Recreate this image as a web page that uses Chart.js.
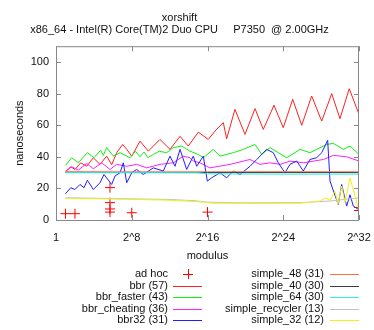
<!DOCTYPE html>
<html>
<head>
<meta charset="utf-8">
<script src="https://cdn.jsdelivr.net/npm/chart.js@4/dist/chart.umd.min.js"></script>
<style>
  body { margin: 0; background: #fff; }
  #wrap { width: 374px; height: 330px; }
</style>
</head>
<body>
<div id="wrap"><canvas id="myChart"></canvas></div>
<script>
// x values are log2(modulus)
const xTickValues = [0, 8, 16, 24, 32];
const xTickLabels = ['1', '2^8', '2^16', '2^24', '2^32'];
const yTickValues = [0, 20, 40, 60, 80, 100];

const adHocX = [1, 2, 5.7, 5.7, 5.7, 5.7, 8, 16, 32, 32];
const adHocY = [4, 4, 20.5, 11, 7, 5, 4.6, 5, 8, 6];

const bbrX = [1, 1.55, 2, 2.61, 3.24, 3.94, 4.65, 5.35, 5.88, 6.41, 7.04, 7.47, 8, 8.87, 9.75, 10.98, 12.04, 13.1, 13.97, 15.03, 16.08, 16.9, 17.67, 18.02, 18.9, 19.96, 21.02, 21.89, 23.02, 24, 25, 25.95, 27, 28.06, 29.12, 29.99, 30.97, 32];
const bbrY = [30.3, 33.7, 32, 36.2, 34, 39.4, 35.2, 40.4, 35, 42.6, 47.8, 44.7, 40.4, 49.9, 43.6, 51, 44.7, 53, 46.8, 55.6, 51, 57, 61.6, 51.4, 70, 54.2, 70.5, 57.3, 72.6, 58.4, 76.4, 59.9, 78.5, 62.6, 80, 64.1, 83.1, 66.9];

const fasterX = [1, 1.66, 2.36, 3.31, 4.01, 4.72, 5, 5.35, 6.05, 6.76, 7.81, 8.4, 8.87, 9.3, 9.7, 10.28, 10.9, 11.69, 12.39, 13.27, 14.15, 15.03, 15.56, 16.61, 17.32, 18.72, 19.78, 21.02, 21.72, 22.6, 23.48, 24.36, 25.77, 26.82, 27.53, 28.59, 29.29, 30.34, 31.05, 32];
const fasterY = [34.5, 39.4, 36.2, 42.6, 39.4, 44.2, 40.9, 45.8, 40.4, 42.6, 39.4, 43.5, 40, 43, 39.5, 41.5, 43.5, 42.6, 45.8, 46.8, 43.6, 41.5, 39.4, 44.7, 40.4, 42.6, 44.7, 47.8, 41.5, 45.8, 42.6, 39.4, 44.7, 42.6, 44.7, 47.8, 48.5, 44.7, 46.8, 41.5];

const cheatingX = [1, 1.66, 2.36, 3.24, 3.94, 4.83, 5.7, 6.41, 7.47, 8.52, 9.58, 10.98, 12.39, 13.44, 14.15, 14.5, 15.21, 16.26, 18.38, 20.49, 21.54, 22.6, 23.66, 24.71, 26.12, 28.23, 29.29, 30.7, 32];
const cheatingY = [31, 33.7, 31.6, 35.8, 32.4, 36.2, 32, 35.2, 34, 35.2, 33, 35.2, 36.2, 40.4, 39.4, 37.3, 36.2, 33, 35.2, 38.3, 35.2, 36.2, 35.2, 37.3, 36.2, 38.3, 40.9, 40, 37.3];

const bbr32X = [1, 1.55, 2, 2.53, 2.96, 3.31, 3.94, 4.65, 5.07, 5.88, 6.23, 6.76, 7.11, 7.47, 8, 8.52, 9.22, 10.28, 11.33, 12.04, 12.57, 13.1, 13.8, 14.5, 14.86, 15.56, 15.98, 16.44, 17.32, 18.02, 18.72, 19.43, 20.49, 21.2, 22.25, 22.95, 23.48, 24.18, 24.71, 25.42, 26.12, 26.82, 27.53, 28.06, 28.69, 28.94, 29.81, 30.17, 30.7, 31.05, 31.4, 31.93];
const bbr32Y = [16.6, 20.4, 19.3, 22.5, 20.4, 25.2, 19.3, 23.6, 28.8, 22.5, 27.8, 29.9, 36.2, 23.6, 29.9, 32, 28.8, 33, 31, 40.4, 34, 44.7, 32, 40.4, 34, 40.4, 24.6, 26.7, 29.9, 26.7, 31, 28.8, 34, 38.3, 44.7, 42.6, 36.2, 29.9, 35.2, 37.3, 31, 38.3, 39.4, 42.6, 50.4, 24.6, 9.8, 22.5, 8.8, 16, 8.8, 6.7];

const simple48X = [1, 8, 16, 24, 32];
const simple48Y = [30.6, 30.5, 30.5, 30.6, 30.5];

const simple40X = [1, 8, 16, 24, 32];
const simple40Y = [30, 30, 30, 30, 30];

const simple64X = [1, 8, 15, 16, 24, 32];
const simple64Y = [30, 30, 29.9, 29.2, 29, 29];

const recyclerX = [1, 6.76, 12.04, 14.68, 15.95, 19.43, 25.77, 28.94, 30.5, 32];
const recyclerY = [14.1, 13.5, 13, 12.2, 11.3, 10.9, 11, 12, 13, 14];

const simple32X = [1, 6.76, 12.04, 15.21, 16.58, 19.43, 25.77, 27.88, 28.51, 28.94, 29.46, 29.78, 30.17, 30.52, 31.05, 31.93];
const simple32Y = [13.7, 13.2, 12.5, 11.5, 10.6, 10.6, 10.6, 12, 14, 12.5, 18.3, 10, 21.5, 11, 26.7, 7.7];

const pairs = (xs, ys) => xs.map((x, i) => ({ x: x, y: ys[i] }));

const series = [
    { label: 'ad hoc', x: adHocX, y: adHocY, color: '#ff0000', points: true },
    { label: 'bbr (57)', x: bbrX, y: bbrY, color: '#ff2020' },
    { label: 'bbr_faster (43)', x: fasterX, y: fasterY, color: '#10f010' },
    { label: 'bbr_cheating (36)', x: cheatingX, y: cheatingY, color: '#ff20ff' },
    { label: 'bbr32 (31)', x: bbr32X, y: bbr32Y, color: '#2020ff' },
    { label: 'simple_48 (31)', x: simple48X, y: simple48Y, color: '#ff7040' },
    { label: 'simple_40 (30)', x: simple40X, y: simple40Y, color: '#3a3a3a' },
    { label: 'simple_64 (30)', x: simple64X, y: simple64Y, color: '#30f0f0' },
    { label: 'simple_recycler (13)', x: recyclerX, y: recyclerY, color: '#c0c0c0' },
    { label: 'simple_32 (12)', x: simple32X, y: simple32Y, color: '#f0f020' },
];

const datasets = series.map((s, i) => ({
    label: s.label,
    data: pairs(s.x, s.y),
    borderColor: s.color,
    backgroundColor: s.color,
    borderWidth: 1,
    showLine: !s.points,
    pointStyle: 'cross',
    pointRadius: s.points ? 5 : 0,
    pointBorderWidth: 1,
    tension: 0,
    order: -i,
}));

// gnuplot-like frame with inward ticks on all four sides
const framePlugin = {
    id: 'frame',
    afterDatasetsDraw(chart) {
        const { ctx, chartArea: a, scales } = chart;
        ctx.save();
        ctx.strokeStyle = '#888';
        ctx.lineWidth = 1;
        ctx.strokeRect(a.left + 0.5, a.top + 0.5, a.right - a.left - 1, a.bottom - a.top);
        ctx.beginPath();
        xTickValues.forEach(v => {
            const px = Math.round(scales.x.getPixelForValue(v)) + 0.5;
            ctx.moveTo(px, a.bottom); ctx.lineTo(px, a.bottom - 5);
            ctx.moveTo(px, a.top); ctx.lineTo(px, a.top + 5);
        });
        yTickValues.forEach(v => {
            const py = Math.round(scales.y.getPixelForValue(v)) + 0.5;
            ctx.moveTo(a.left, py); ctx.lineTo(a.left + 5, py);
            ctx.moveTo(a.right, py); ctx.lineTo(a.right - 5, py);
        });
        ctx.stroke();
        ctx.restore();
    },
};

// two-column legend, text right-aligned with sample on its right
const legendPlugin = {
    id: 'sideLegend',
    afterDraw(chart) {
        const ctx = chart.ctx;
        const rows = [274, 286, 297, 309, 320];
        const cols = [{ textX: 168, lineX: 173 }, { textX: 324, lineX: 330 }];
        ctx.save();
        ctx.font = '11px "Liberation Sans", Arial, sans-serif';
        ctx.textAlign = 'right';
        ctx.textBaseline = 'middle';
        ctx.lineWidth = 1;
        series.forEach((s, i) => {
            const col = cols[Math.floor(i / 5)];
            const y = rows[i % 5];
            ctx.fillStyle = '#111';
            ctx.fillText(s.label, col.textX, y);
            ctx.strokeStyle = s.color;
            ctx.beginPath();
            if (s.points) {
                const cx = col.lineX + 15;
                ctx.moveTo(cx - 5, y + 0.5); ctx.lineTo(cx + 5, y + 0.5);
                ctx.moveTo(cx + 0.5, y - 5); ctx.lineTo(cx + 0.5, y + 5);
            } else {
                ctx.moveTo(col.lineX, y + 0.5);
                ctx.lineTo(col.lineX + 29, y + 0.5);
            }
            ctx.stroke();
        });
        ctx.restore();
    },
};

Chart.defaults.font.family = '"Liberation Sans", Arial, sans-serif';
Chart.defaults.font.size = 11;
Chart.defaults.color = '#111';

const ctx = document.getElementById('myChart').getContext('2d');

const myChart = new Chart(ctx, {
    type: 'scatter',
    data: { datasets: datasets },
    options: {
        animation: false,
        responsive: true,
        maintainAspectRatio: false,
        layout: { padding: { top: 0, left: 0, right: 15, bottom: 67 } },
        plugins: {
            legend: { display: false },
            tooltip: { enabled: false },
            title: {
                display: true,
                text: ['xorshift', 'x86_64 - Intel(R) Core(TM)2 Duo CPU     P7350  @ 2.00GHz'],
                font: { size: 11, weight: 'normal', lineHeight: 1.1 },
                color: '#111',
                padding: { top: 12, bottom: 10 },
            },
        },
        scales: {
            x: {
                type: 'linear',
                min: 0,
                max: 32,
                grid: { display: false, drawTicks: false },
                border: { display: false },
                afterBuildTicks: scale => { scale.ticks = xTickValues.map(v => ({ value: v })); },
                afterFit: scale => {
                    scale.height = 43;
                    scale.paddingLeft = 0;
                    scale.paddingRight = 0;
                },
                ticks: {
                    padding: 11,
                    maxRotation: 0,
                    callback: (v) => xTickLabels[xTickValues.indexOf(v)],
                },
                title: { display: true, text: 'modulus', padding: { top: 0, bottom: 0 } },
            },
            y: {
                min: 0,
                max: 110,
                grid: { display: false, drawTicks: false },
                border: { display: false },
                afterBuildTicks: scale => { scale.ticks = yTickValues.map(v => ({ value: v })); },
                afterFit: scale => { scale.width = 56; },
                ticks: { padding: 7 },
                title: { display: true, text: 'nanoseconds', padding: { top: 13, bottom: 0 } },
            },
        },
    },
    plugins: [framePlugin, legendPlugin],
});
</script>
</body>
</html>
